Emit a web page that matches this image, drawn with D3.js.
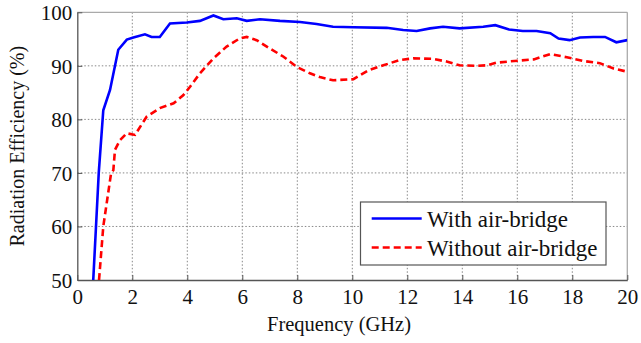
<!DOCTYPE html>
<html><head><meta charset="utf-8">
<script src="https://cdn.jsdelivr.net/npm/d3@7"></script>
<style>body{margin:0;background:#fff}svg{display:block}</style>
</head><body>
<svg id="c" width="641" height="343"></svg>
<script>
const freqWith = [0.58,0.68,0.78,0.945,1.19,1.49,1.8,2.04,2.46,2.7,3.0,3.37,3.98,4.46,4.95,5.31,5.8,6.16,6.64,7.37,8.1,8.7,9.3,10.04,11.25,11.85,12.34,12.83,13.3,13.9,14.76,15.2,15.7,16.2,16.7,17.2,17.5,17.9,18.28,18.76,19.19,19.6,20.0];
const effWith  = [50,60,70,81.7,85.5,93.0,94.9,95.3,95.9,95.4,95.4,97.9,98.1,98.4,99.4,98.7,98.9,98.4,98.7,98.4,98.2,97.8,97.3,97.2,97.1,96.7,96.5,97.0,97.3,97.0,97.3,97.6,96.8,96.5,96.5,96.1,95.1,94.8,95.3,95.4,95.4,94.4,94.8];
const freqWithout = [0.79,0.945,1.23,1.31,1.37,1.55,1.8,2.1,2.52,3.0,3.5,3.85,4.1,4.46,4.95,5.43,5.9,6.16,6.52,6.89,7.5,7.98,8.46,8.82,9.3,10.04,10.6,11.13,11.73,12.22,12.95,13.43,13.9,14.5,14.9,15.25,16.1,16.6,17.2,17.8,18.4,19.0,19.5,20.0];
const effWithout  = [50,60,70,70.5,74.3,76.1,77.4,77.1,80.5,82.1,83.0,84.5,86.1,88.6,91.4,93.6,95.1,95.4,94.8,93.6,91.7,89.8,88.6,87.9,87.3,87.5,89.2,90.1,91.1,91.4,91.3,90.8,90.1,90.0,90.1,90.6,91.0,91.2,92.2,91.6,90.9,90.5,89.5,88.9];
const xTicks = [0,2,4,6,8,10,12,14,16,18,20];
const yTicks = [50,60,70,80,90,100];
const seriesNames = ["With air-bridge","Without air-bridge"];

const FONT = "'Liberation Serif', Tinos, 'Times New Roman', Times, 'Noto Serif', 'DejaVu Serif', FreeSerif, serif";
const svg = d3.select("#c");
const L=77.3, R=627.3, T=12.3, B=280;
const x = d3.scaleLinear().domain([0,20]).range([L,R]);
const y = d3.scaleLinear().domain([50,100]).range([B,T]);

const g = svg.append("g");
g.selectAll(".vg").data(xTicks.slice(1,-1)).enter().append("line")
 .attr("x1",d=>x(d)).attr("x2",d=>x(d)).attr("y1",T).attr("y2",B)
 .attr("stroke","#888").attr("stroke-width",1).attr("stroke-dasharray","1.5,2");
g.selectAll(".hg").data(yTicks.slice(1,-1)).enter().append("line")
 .attr("y1",d=>y(d)).attr("y2",d=>y(d)).attr("x1",L).attr("x2",R)
 .attr("stroke","#888").attr("stroke-width",1).attr("stroke-dasharray","1.5,2");

svg.append("line").attr("x1",L).attr("x2",R).attr("y1",T).attr("y2",T).attr("stroke","#aaa").attr("stroke-width",1.3);
svg.append("line").attr("x1",R).attr("x2",R).attr("y1",T).attr("y2",B).attr("stroke","#aaa").attr("stroke-width",1.3);

const xa = svg.append("g").attr("transform",`translate(0,${B})`)
 .call(d3.axisBottom(x).tickValues(xTicks).tickSizeInner(-5).tickSizeOuter(0).tickPadding(10));
const ya = svg.append("g").attr("transform",`translate(${L},0)`)
 .call(d3.axisLeft(y).tickValues(yTicks).tickSizeInner(-5).tickSizeOuter(0).tickPadding(5));
[xa,ya].forEach(a=>{a.attr("font-family",null).attr("font-size",null);
 a.select(".domain").attr("stroke","#555").attr("stroke-width",1.3);
 a.selectAll(".tick line").attr("stroke","#555");
 a.selectAll("text").style("font-family",FONT).style("font-size","21px").attr("fill","#111");});
xa.selectAll("text").attr("dy","0.68em");
ya.selectAll("text").attr("dy","0.35em");

svg.append("clipPath").attr("id","clip").append("rect").attr("x",L).attr("y",T).attr("width",R-L).attr("height",B-T);
const line = d3.line().x(d=>x(d[0])).y(d=>y(d[1]));
const dataWith = freqWith.map((f,i)=>[f,effWith[i]]);
const dataWithout = freqWithout.map((f,i)=>[f,effWithout[i]]);
const pg = svg.append("g").attr("clip-path","url(#clip)");
pg.append("path").datum(dataWithout).attr("d",line).attr("fill","none").attr("stroke","#ff0000").attr("stroke-width",2.6).attr("stroke-dasharray","7,4");
pg.append("path").datum(dataWith).attr("d",line).attr("fill","none").attr("stroke","#0000ff").attr("stroke-width",2.6);

const lg = svg.append("g");
lg.append("rect").attr("x",360.5).attr("y",202).attr("width",245.5).attr("height",63).attr("fill","#fff").attr("stroke","#555").attr("stroke-width",1.2);
const colors=["#0000ff","#ff0000"], dashes=[null,"7,4"];
seriesNames.forEach((n,i)=>{
 const yy = 218.5 + i*29;
 lg.append("line").attr("x1",371.7).attr("x2",421.7).attr("y1",yy).attr("y2",yy).attr("stroke",colors[i]).attr("stroke-width",2.6).attr("stroke-dasharray",dashes[i]);
 lg.append("text").attr("x",427).attr("y",yy+8).style("font-family",FONT).style("font-size","23px").attr("fill","#111").text(n);
});

svg.append("text").attr("x",339).attr("y",331).attr("text-anchor","middle").style("font-family",FONT).style("font-size","20.5px").attr("fill","#111").text("Frequency (GHz)");
svg.append("text").attr("transform",`translate(24,${(T+B)/2}) rotate(-90)`).attr("text-anchor","middle").style("font-family",FONT).style("font-size","20px").attr("fill","#111").text("Radiation Efficiency (%)");
</script>
</body></html>
